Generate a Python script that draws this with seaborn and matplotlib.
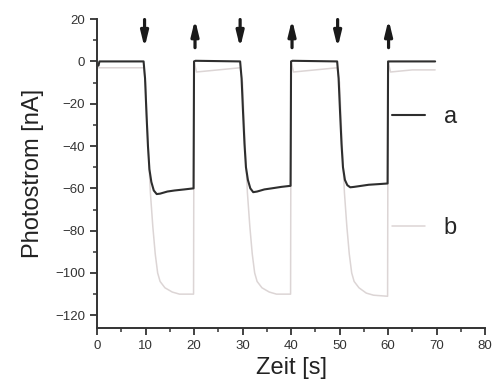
import pandas as pd
import matplotlib
matplotlib.use("Agg")
import matplotlib.pyplot as plt
from matplotlib.ticker import MultipleLocator
import seaborn as sns

# curve a (dark)
t_a = [0.3, 0.5, 9.6, 9.9, 10.2, 10.5, 10.8, 11.2, 11.7, 12.3, 13, 14.5, 16, 18, 19.9,
       20.0, 20.3, 29.5, 29.8, 30.1, 30.4, 30.7, 31.1, 31.6, 32.2, 33, 34.5, 36, 38, 39.9,
       40.0, 40.3, 49.5, 49.8, 50.1, 50.4, 50.7, 51.1, 51.6, 52.2, 53, 54.5, 56, 58, 59.9,
       60.0, 60.3, 69.7]
i_a = [-2, 0, 0, -8, -25, -40, -51, -57, -61, -62.7, -62.5, -61.5, -61, -60.5, -60,
       0, 0.3, 0, -8, -24, -39, -50, -56, -60, -61.8, -61.5, -60.5, -60, -59.3, -58.8,
       0, 0.3, 0, -8, -24, -39, -50, -56, -58.5, -59.5, -59.3, -58.8, -58.3, -58, -57.7,
       0, 0, 0]

# curve b (light)
t_b = [0.3, 9.6, 10.0, 10.5, 11.0, 11.5, 12.0, 12.5, 13.0, 14.0, 15.5, 17, 19.9,
       20.0, 20.5, 25, 29.5, 30.0, 30.5, 31.0, 31.5, 32.0, 32.5, 33.0, 34.0, 35.5, 37, 39.9,
       40.0, 40.5, 45, 49.5, 50.0, 50.5, 51.0, 51.5, 52.0, 52.5, 53.0, 54.0, 55.5, 57, 59.9,
       60.0, 60.5, 65, 69.7]
i_b = [-3, -3, -10, -38, -62, -78, -91, -100, -104, -107, -109, -110, -110,
       0, -5, -4, -3, -10, -38, -62, -78, -91, -100, -104, -107, -109, -110, -110,
       0, -5, -4, -3, -10, -38, -62, -78, -91, -100, -104, -107, -109.5, -110.5, -111,
       0, -5, -4, -4]

light_on = [9.8, 29.5, 49.6]
light_off = [20.2, 40.2, 60.1]

xticks = [0, 10, 20, 30, 40, 50, 60, 70, 80]
yticks = [-120, -100, -80, -60, -40, -20, 0, 20]

df_a = pd.DataFrame({"t": t_a, "I": i_a})
df_b = pd.DataFrame({"t": t_b, "I": i_b})

sns.set_style("ticks")
plt.rcParams["font.family"] = ["Liberation Sans", "DejaVu Sans"]

fig = plt.figure(figsize=(4.95, 3.9), dpi=100)
ax = fig.add_axes([0.196, 0.159, 0.784, 0.792])

sns.lineplot(data=df_b, x="t", y="I", sort=False, estimator=None, color="#dcd5d5", lw=1.1, ax=ax)
sns.lineplot(data=df_a, x="t", y="I", sort=False, estimator=None, color="#2e2e2e", lw=1.5, ax=ax)

line_b, line_a = ax.lines[0], ax.lines[1]

# arrows for light on / off
arrow = dict(arrowstyle="-|>,head_width=0.22,head_length=0.9", color="#1a1a1a", lw=2.3,
             shrinkA=0, shrinkB=0)
for t in light_on:
    ax.annotate("", xy=(t, 6.5), xytext=(t, 19.8), arrowprops=arrow)
for t in light_off:
    ax.annotate("", xy=(t, 19.8), xytext=(t, 6.5), arrowprops=arrow)

leg_a = ax.legend([line_a], ["a"], loc="center left", bbox_to_anchor=(0.76, 0.683),
                  frameon=False, fontsize=17, handlelength=1.4, handletextpad=0.8, borderpad=0, borderaxespad=0)
ax.add_artist(leg_a)
ax.legend([line_b], ["b"], loc="center left", bbox_to_anchor=(0.76, 0.324),
          frameon=False, fontsize=17, handlelength=1.4, handletextpad=0.8, borderpad=0, borderaxespad=0)

ax.set_xlim(0, 80)
ax.set_ylim(-126, 20)
ax.set_xticks(xticks)
ax.set_yticks(yticks)
ax.xaxis.set_minor_locator(MultipleLocator(5))
ax.yaxis.set_minor_locator(MultipleLocator(10))
ax.tick_params(which="major", length=5, width=1.3, color="#333333", labelsize=9.5, labelcolor="#333333")
ax.tick_params(which="minor", length=3, width=1.1, color="#333333")
for s in ["left", "bottom"]:
    ax.spines[s].set_color("#333333")
    ax.spines[s].set_linewidth(1.4)
sns.despine(ax=ax)

ax.set_xlabel("Zeit [s]", fontsize=17, color="#222222", labelpad=4)
ax.set_ylabel("Photostrom [nA]", fontsize=17, color="#222222", labelpad=8)

fig.savefig("out.png", dpi=100)
